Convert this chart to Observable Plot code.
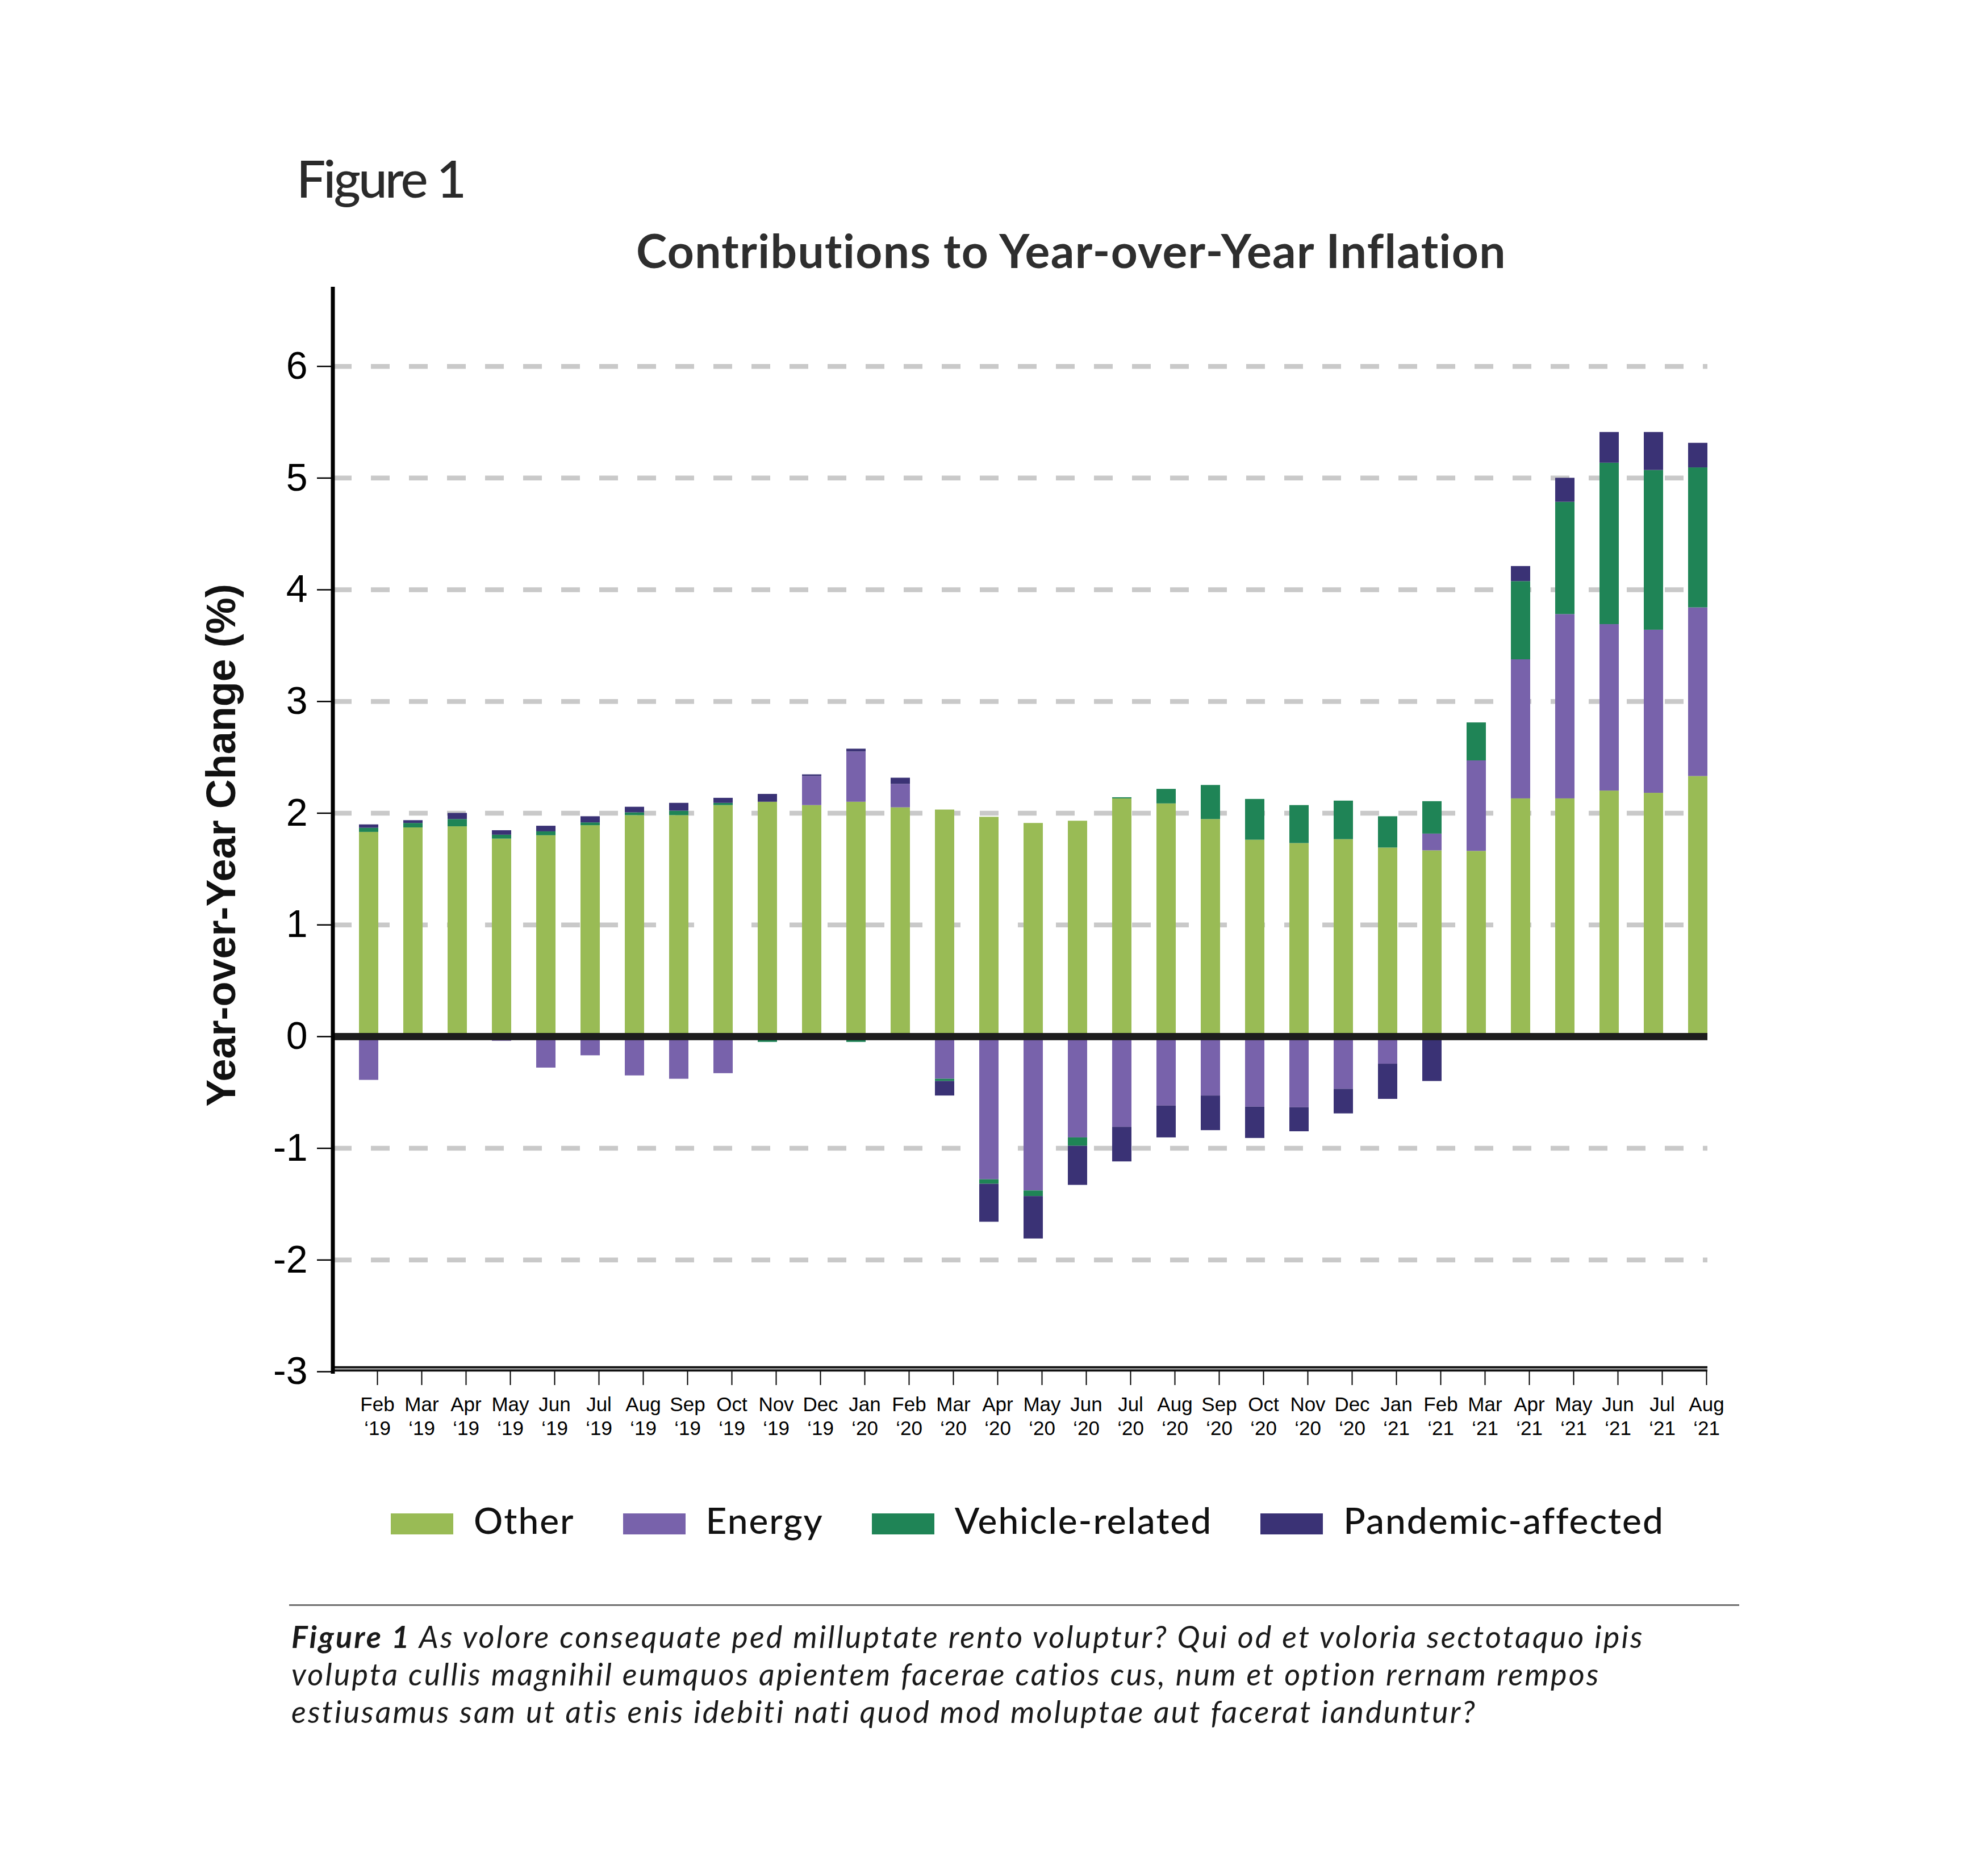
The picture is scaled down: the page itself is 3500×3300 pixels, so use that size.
<!DOCTYPE html>
<html><head><meta charset="utf-8">
<script src="https://cdn.jsdelivr.net/npm/d3@7"></script>
<script src="https://cdn.jsdelivr.net/npm/@observablehq/plot@0.6"></script>
<style>
html,body{margin:0;padding:0;background:#fff;}
body{width:3500px;height:3300px;position:relative;overflow:hidden;}
.abs{position:absolute;white-space:nowrap;}
#fig{left:522px;top:267px;font:500 91px/1 Lato, sans-serif;color:#2a2a2a;letter-spacing:-4px;}
#title{left:1120px;top:399px;font:700 82px/1 Lato, sans-serif;color:#2e2e2e;letter-spacing:1.4px;}
#legend{left:688px;top:2645px;display:flex;align-items:flex-start;font:500 64px/1 Lato, sans-serif;color:#111;letter-spacing:2px;}
#legend .item{display:flex;align-items:flex-start;margin-right:85px;}
#legend .sw{width:110px;height:37px;margin-top:20px;margin-right:36px;}
#rule{left:509px;top:2825px;width:2553px;height:3px;background:#717171;}
#caption{left:513px;top:2849px;font:italic 400 54px/66px Lato, sans-serif;color:#1a1a1a;letter-spacing:3.1px;}
#caption b{font-weight:700;}
</style></head><body>
<div id="fig" class="abs">Figure 1</div>
<div id="title" class="abs">Contributions to Year-over-Year Inflation</div>
<div id="chart" class="abs" style="left:0;top:480px;"></div>
<div id="legend" class="abs"></div>
<div id="rule" class="abs"></div>
<div id="caption" class="abs"><b>Figure 1</b> As volore consequate ped milluptate rento voluptur? Qui od et voloria sectotaquo ipis<br>volupta cullis magnihil eumquos apientem facerae catios cus, num et option rernam rempos<br>estiusamus sam ut atis enis idebiti nati quod mod moluptae aut facerat ianduntur?</div>
<script>
// ---- data ----
const monthNames = ["Feb","Mar","Apr","May","Jun","Jul","Aug","Sep","Oct","Nov","Dec","Jan","Feb","Mar","Apr","May","Jun","Jul","Aug","Sep","Oct","Nov","Dec","Jan","Feb","Mar","Apr","May","Jun","Jul","Aug"];
const yearNames = ["‘19","‘19","‘19","‘19","‘19","‘19","‘19","‘19","‘19","‘19","‘19","‘20","‘20","‘20","‘20","‘20","‘20","‘20","‘20","‘20","‘20","‘20","‘20","‘21","‘21","‘21","‘21","‘21","‘21","‘21","‘21"];
const seriesNames = ["Other","Energy","Vehicle-related","Pandemic-affected"];
const seriesColors = ["#99bb55","#7862ab","#1f8456","#3a3275"];
const other    = [1.83,1.87,1.88,1.77,1.80,1.89,1.98,1.98,2.07,2.10,2.07,2.10,2.05,2.03,1.965,1.91,1.93,2.13,2.085,1.945,1.76,1.73,1.765,1.69,1.665,1.66,2.13,2.13,2.20,2.18,2.33];
const energy   = [-0.39,-0.03,0,-0.04,-0.28,-0.17,-0.35,-0.38,-0.33,-0.03,0.26,0.45,0.21,-0.38,-1.28,-1.38,-0.905,-0.81,-0.62,-0.53,-0.63,-0.635,-0.47,-0.245,0.15,0.81,1.245,1.65,1.49,1.46,1.51];
const vehicle  = [0.037,0.04,0.065,0.035,0.035,0.025,0.025,0.04,0.02,-0.02,-0.02,-0.05,0,-0.02,-0.04,-0.05,-0.075,0.01,0.13,0.305,0.365,0.34,0.345,0.28,0.29,0.34,0.70,1.005,1.445,1.43,1.253];
const pandemic = [0.03,0.025,0.055,0.04,0.05,0.055,0.05,0.07,0.045,0.07,0.015,0.025,0.055,-0.13,-0.34,-0.38,-0.35,-0.31,-0.285,-0.31,-0.28,-0.215,-0.22,-0.315,-0.40,0,0.135,0.215,0.275,0.34,0.22];
const yTicks = [-3,-2,-1,0,1,2,3,4,5,6];
const yGrid = [-2,-1,1,2,3,4,5,6];
const yLabel = "Year-over-Year Change (%)";

// ---- table ----
const keys = monthNames.map((m, i) => m + " " + yearNames[i]);
const tickText = new Map(keys.map((k, i) => [k, monthNames[i] + "\n" + yearNames[i]]));
const seriesValues = [other, energy, vehicle, pandemic];
const table = [];
seriesNames.forEach((s, j) => seriesValues[j].forEach((v, i) => table.push({key: keys[i], series: s, value: v})));

const yAxisLine = (index, scales, values, dims) => {
  const l = document.createElementNS("http://www.w3.org/2000/svg", "line");
  l.setAttribute("x1", dims.marginLeft); l.setAttribute("x2", dims.marginLeft);
  l.setAttribute("y1", dims.marginTop); l.setAttribute("y2", dims.height - dims.marginBottom + 4);
  l.setAttribute("stroke", "#000"); l.setAttribute("stroke-width", 7);
  return l;
};

const chart = Plot.plot({
  width: 3500, height: 2120,
  marginLeft: 586, marginRight: 494, marginTop: 25, marginBottom: 185,
  style: {fontFamily: "'Liberation Sans', Arial, sans-serif", background: "transparent", overflow: "visible", color: "#000"},
  x: {domain: keys, paddingInner: 0.5645, paddingOuter: 0.282, align: 1},
  y: {domain: [-3, 6.71]},
  color: {domain: seriesNames, range: seriesColors},
  marks: [
    Plot.ruleY(yGrid, {stroke: "#c9c9c9", strokeWidth: 8.5, strokeDasharray: "33,34"}),
    Plot.barY(table, Plot.stackY({x: "key", y: "value", fill: "series", order: seriesNames})),
    Plot.ruleY([0], {stroke: "#1d1d1d", strokeWidth: 12.6}),
    Plot.ruleY([-3], {stroke: "#111", strokeWidth: 9.3, dy: -5}),
    Plot.ruleY([-3], {stroke: "#c9c9c9", strokeWidth: 2, dy: -5}),
    yAxisLine,
    Plot.axisY({ticks: yTicks, tickSize: 28, tickPadding: 17, fontSize: 68, strokeWidth: 2.5, label: null,
      tickFormat: d => d < 0 ? "-" + Math.abs(d) : String(d)}),
    Plot.axisX({tickSize: 24, tickPadding: 16, fontSize: 35, lineHeight: 1.2, strokeWidth: 2, dx: 15, label: null,
      tickFormat: k => tickText.get(k)}),
    Plot.text([yLabel], {text: d => d, frameAnchor: "left", textAnchor: "middle", rotate: -90, dx: -196, dy: 28,
      fontSize: 72, fontWeight: "bold", fontFamily: "'Liberation Sans', Arial, sans-serif", fill: "#111"})
  ]
});
document.getElementById("chart").appendChild(chart);

// ---- legend ----
const legend = document.getElementById("legend");
seriesNames.forEach((s, j) => {
  const item = document.createElement("div"); item.className = "item";
  const sw = document.createElement("div"); sw.className = "sw"; sw.style.background = seriesColors[j];
  const lb = document.createElement("div"); lb.textContent = s;
  item.appendChild(sw); item.appendChild(lb); legend.appendChild(item);
});
</script>
</body></html>
